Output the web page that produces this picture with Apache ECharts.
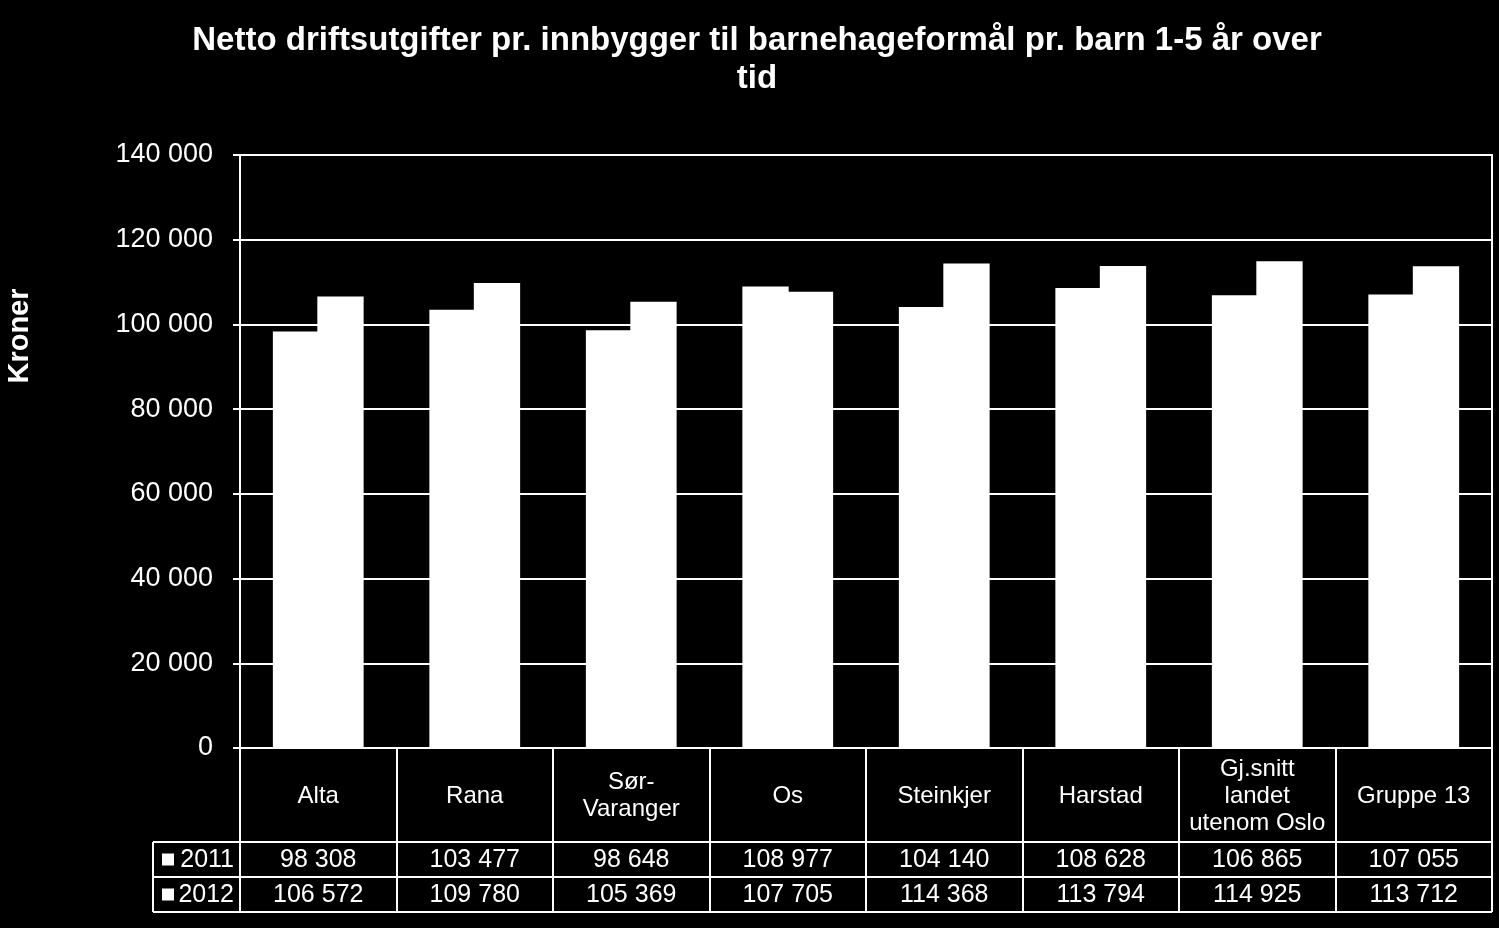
<!DOCTYPE html>
<html>
<head>
<meta charset="utf-8">
<script src="https://cdn.jsdelivr.net/npm/echarts@6/dist/echarts.min.js"></script>
<style>
html,body{margin:0;padding:0;background:#000;}
#main{width:1499px;height:928px;}
</style>
</head>
<body>
<div id="main"></div>
<script>
const categories = ['Alta', 'Rana', 'Sør-\nVaranger', 'Os', 'Steinkjer', 'Harstad', 'Gj.snitt\nlandet\nutenom Oslo', 'Gruppe 13'];
const seriesNames = ['2011', '2012'];
const values2011 = [98308, 103477, 98648, 108977, 104140, 108628, 106865, 107055];
const values2012 = [106572, 109780, 105369, 107705, 114368, 113794, 114925, 113712];
const yTicks = { min: 0, max: 140000, interval: 20000 };
const titleText = 'Netto driftsutgifter pr. innbygger til barnehageformål pr. barn 1-5 år over\ntid';
const yName = 'Kroner';

const FONT = 'Liberation Sans, Arial, sans-serif';
const fmt = v => String(v).replace(/\B(?=(\d{3})+(?!\d))/g, ' ');

const chart = echarts.init(document.getElementById('main'), null, { renderer: 'canvas' });
const grid = { left: 240, right: 7, top: 155, bottom: 180 };

const barStyle = { color: '#fff', borderWidth: 0 };
const option = {
  backgroundColor: '#000',
  animation: false,
  title: {
    text: titleText,
    left: 752, textAlign: 'center', top: 17,
    textStyle: { color: '#fff', fontFamily: FONT, fontWeight: 'bold', fontSize: 33, lineHeight: 38 }
  },
  grid: Object.assign({ show: true, borderColor: '#fff', borderWidth: 2, backgroundColor: 'transparent' }, grid),
  xAxis: {
    type: 'category',
    data: categories,
    axisLine: { show: true, lineStyle: { color: '#fff', width: 2 } },
    axisTick: { show: true, length: 164, lineStyle: { color: '#fff', width: 2 } },
    axisLabel: {
      color: '#fff', fontFamily: FONT, fontSize: 24, lineHeight: 27,
      margin: 48, verticalAlign: 'middle', interval: 0
    },
    splitLine: { show: false },
    axisPointer: { show: false }
  },
  yAxis: {
    type: 'value',
    min: yTicks.min, max: yTicks.max, interval: yTicks.interval,
    axisLine: { show: true, lineStyle: { color: '#fff', width: 2 } },
    axisTick: { show: true, length: 7, lineStyle: { color: '#fff', width: 2 } },
    axisLabel: { color: '#fff', fontFamily: FONT, fontSize: 27, margin: 27, formatter: v => fmt(v) },
    splitLine: { show: true, lineStyle: { color: '#fff', width: 2 } }
  },
  series: [
    { name: seriesNames[0], type: 'bar', data: values2011, barGap: '-4%', barCategoryGap: '42%', itemStyle: barStyle, emphasis: { disabled: true } },
    { name: seriesNames[1], type: 'bar', data: values2012, barGap: '-4%', barCategoryGap: '42%', itemStyle: barStyle, emphasis: { disabled: true } }
  ]
};
chart.setOption(option);

// Data table drawn below the axis, aligned with the category scale
const W = 1499;
const plotRight = W - grid.right;
const rowTops = [842, 877, 912];
const tableLeft = 153;
const els = [];
const lineStyle = { stroke: '#fff', lineWidth: 2 };
rowTops.forEach(y => {
  els.push({ type: 'line', shape: { x1: tableLeft, y1: y, x2: plotRight, y2: y }, style: lineStyle });
});
els.push({ type: 'line', shape: { x1: tableLeft, y1: rowTops[0], x2: tableLeft, y2: rowTops[2] }, style: lineStyle });
const rows = [values2011, values2012];
rows.forEach((vals, r) => {
  const cy = (rowTops[r] + rowTops[r + 1]) / 2;
  els.push({ type: 'rect', shape: { x: 162, y: cy - 6, width: 12, height: 12 }, style: { fill: '#fff' } });
  els.push({ type: 'text', x: 234, y: cy + 1, style: { text: seriesNames[r], fill: '#fff', font: '25px ' + FONT, textAlign: 'right', textVerticalAlign: 'middle' } });
  vals.forEach((v, i) => {
    const cx = chart.convertToPixel({ xAxisIndex: 0 }, i);
    els.push({ type: 'text', x: cx, y: cy + 1, style: { text: fmt(v), fill: '#fff', font: '25px ' + FONT, textAlign: 'center', textVerticalAlign: 'middle' } });
  });
});
els.push({
  type: 'text', x: 20, y: 336, rotation: Math.PI / 2,
  style: { text: yName, fill: '#fff', font: 'bold 29px ' + FONT, textAlign: 'center', textVerticalAlign: 'middle' }
});
chart.setOption({ graphic: els });
</script>
</body>
</html>
